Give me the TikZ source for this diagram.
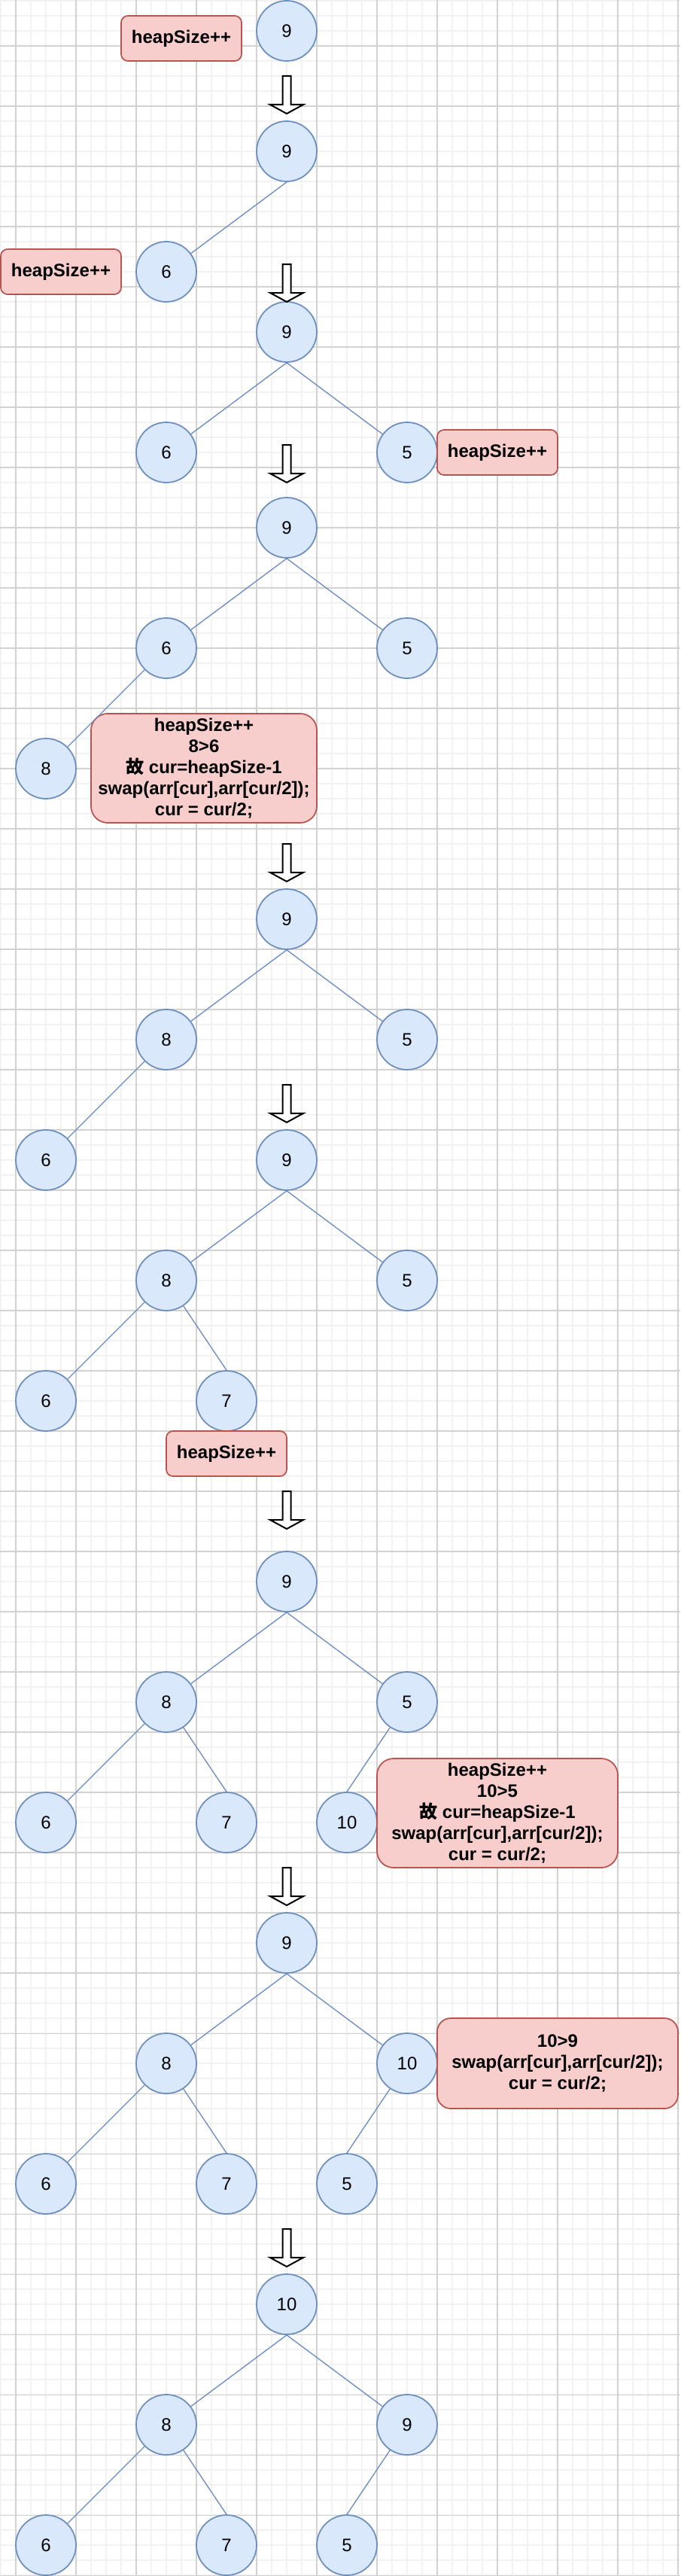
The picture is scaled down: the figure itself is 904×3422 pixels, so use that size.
\documentclass[tikz,border=0pt]{standalone}
\usepackage{fontspec}
\setmainfont{Liberation Sans}
\newfontfamily\cjk{Noto Sans CJK SC}
\usepackage{xcolor}
\usepackage{tikz}
\definecolor{nodefill}{HTML}{DAE8FC}
\definecolor{nodeline}{HTML}{6C8EBF}
\definecolor{boxfill}{HTML}{F8CECC}
\definecolor{boxline}{HTML}{B85450}
\definecolor{gridminor}{HTML}{F2F2F2}
\definecolor{gridmajor}{HTML}{D2D2D2}
\tikzset{
    heapnode/.style = {circle, draw=nodeline, fill=nodefill, line width=1.3pt,
        minimum size=60pt, inner sep=0pt, font=\fontsize{18}{21}\selectfont},
    notebox/.style = {rectangle, rounded corners=6.75pt, draw=boxline, fill=boxfill,
        line width=1.3pt, inner sep=0pt, align=center,
        font=\fontsize{18}{21}\selectfont\bfseries,
        minimum width=120pt, minimum height=45pt},
    bignote/.style = {notebox, rounded corners=16.5pt,
        minimum width=225pt, minimum height=108.75pt},
    treeedge/.style = {draw=nodeline, line width=1pt},
    stagearrow/.style = {draw=black, fill=white, line width=1.5pt},
    minorgrid/.style = {draw=gridminor, line width=1.5pt},
    majorgrid/.style = {draw=gridmajor, line width=0.8pt},
}

\begin{document}
\begin{tikzpicture}[x=0.75pt, y=-0.75pt]
            \useasboundingbox (0,0) rectangle (904,3422);
            \fill[white] (0,0) rectangle (904,3422);
            % background grid
            \foreach \x in {1,21,...,901} \draw[minorgrid] (\x,0) -- (\x,3422);
            \foreach \y in {1,21,...,3421} \draw[minorgrid] (0,\y) -- (904,\y);
            \foreach \x in {21,101,...,901} \draw[majorgrid] (\x,0) -- (\x,3422);
            \foreach \y in {61,141,...,3421} \draw[majorgrid] (0,\y) -- (904,\y);

            % insert 9
            \node (a9) [heapnode] at (381,41) {9};
            \node (na) [notebox] at (241,51) {heapSize++};

            % insert 6
            \node (b9) [heapnode] at (381,201) {9};
            \node (b6) [heapnode] at (221,361) {6};
            \node (nb) [notebox] at (81,361) {heapSize++};
            \draw[treeedge] (b9.south) -- (b6);

            % insert 5
            \node (c9) [heapnode] at (381,441) {9};
            \node (c6) [heapnode] at (221,601) {6};
            \node (c5) [heapnode] at (541,601) {5};
            \node (nc) [notebox] at (661,601) {heapSize++};
            \draw[treeedge] (c9.south) -- (c6);
            \draw[treeedge] (c9.south) -- (c5);

            % insert 8
            \node (d9) [heapnode] at (381,701) {9};
            \node (d6) [heapnode] at (221,861) {6};
            \node (d5) [heapnode] at (541,861) {5};
            \node (d8) [heapnode] at (61,1021) {8};
            \node (nd) [bignote, minimum width=225pt] at (271,1020.5)
                {heapSize++\\8>6\\{\cjk 故} cur=heapSize-1\\swap(arr[cur],arr[cur/2]);\\cur = cur/2;};
            \draw[treeedge] (d9.south) -- (d6);
            \draw[treeedge] (d9.south) -- (d5);
            \draw[treeedge] (d6) -- (d8);

            % 8 swapped up
            \node (e9) [heapnode] at (381,1221) {9};
            \node (e8) [heapnode] at (221,1381) {8};
            \node (e5) [heapnode] at (541,1381) {5};
            \node (e6) [heapnode] at (61,1541) {6};
            \draw[treeedge] (e9.south) -- (e8);
            \draw[treeedge] (e9.south) -- (e5);
            \draw[treeedge] (e8) -- (e6);

            % insert 7
            \node (f9) [heapnode] at (381,1541) {9};
            \node (f8) [heapnode] at (221,1701) {8};
            \node (f5) [heapnode] at (541,1701) {5};
            \node (f6) [heapnode] at (61,1861) {6};
            \node (f7) [heapnode] at (301,1861) {7};
            \node (nf) [notebox] at (301,1931) {heapSize++};
            \draw[treeedge] (f9.south) -- (f8);
            \draw[treeedge] (f9.south) -- (f5);
            \draw[treeedge] (f8) -- (f6);
            \draw[treeedge] (f8) -- (f7.north);

            % insert 10
            \node (g9) [heapnode] at (381,2101) {9};
            \node (g8) [heapnode] at (221,2261) {8};
            \node (g5) [heapnode] at (541,2261) {5};
            \node (g6) [heapnode] at (61,2421) {6};
            \node (g7) [heapnode] at (301,2421) {7};
            \node (g10) [heapnode] at (461,2421) {10};
            \node (ng) [bignote, minimum width=240pt] at (661,2408.5)
                {heapSize++\\10>5\\{\cjk 故} cur=heapSize-1\\swap(arr[cur],arr[cur/2]);\\cur = cur/2;};
            \draw[treeedge] (g9.south) -- (g8);
            \draw[treeedge] (g9.south) -- (g5);
            \draw[treeedge] (g8) -- (g6);
            \draw[treeedge] (g8) -- (g7.north);
            \draw[treeedge] (g5) -- (g10.north);

            % 10 swapped with 5
            \node (h9) [heapnode] at (381,2581) {9};
            \node (h8) [heapnode] at (221,2741) {8};
            \node (h10) [heapnode] at (541,2741) {10};
            \node (h6) [heapnode] at (61,2901) {6};
            \node (h7) [heapnode] at (301,2901) {7};
            \node (h5) [heapnode] at (461,2901) {5};
            \node (nh) [bignote, rounded corners=13.5pt, minimum width=240pt, minimum height=90pt] at (741,2741)
                {10>9\\swap(arr[cur],arr[cur/2]);\\cur = cur/2;};
            \draw[treeedge] (h9.south) -- (h8);
            \draw[treeedge] (h9.south) -- (h10);
            \draw[treeedge] (h8) -- (h6);
            \draw[treeedge] (h8) -- (h7.north);
            \draw[treeedge] (h10) -- (h5.north);

            % 10 swapped with 9
            \node (i10) [heapnode] at (381,3061) {10};
            \node (i8) [heapnode] at (221,3221) {8};
            \node (i9) [heapnode] at (541,3221) {9};
            \node (i6) [heapnode] at (61,3381) {6};
            \node (i7) [heapnode] at (301,3381) {7};
            \node (i5) [heapnode] at (461,3381) {5};
            \draw[treeedge] (i10.south) -- (i8);
            \draw[treeedge] (i10.south) -- (i9);
            \draw[treeedge] (i8) -- (i6);
            \draw[treeedge] (i8) -- (i7.north);
            \draw[treeedge] (i9) -- (i5.north);

            % arrows between the steps
            \foreach \y in {101,351,591,1121,1441,1981,2481,2961}
                \draw[stagearrow] (375.5,\y) -- (386.5,\y) -- (386.5,\y+38) -- (403,\y+38)
                    -- (381,\y+50) -- (359,\y+38) -- (375.5,\y+38) -- cycle;
\end{tikzpicture}
\end{document}
